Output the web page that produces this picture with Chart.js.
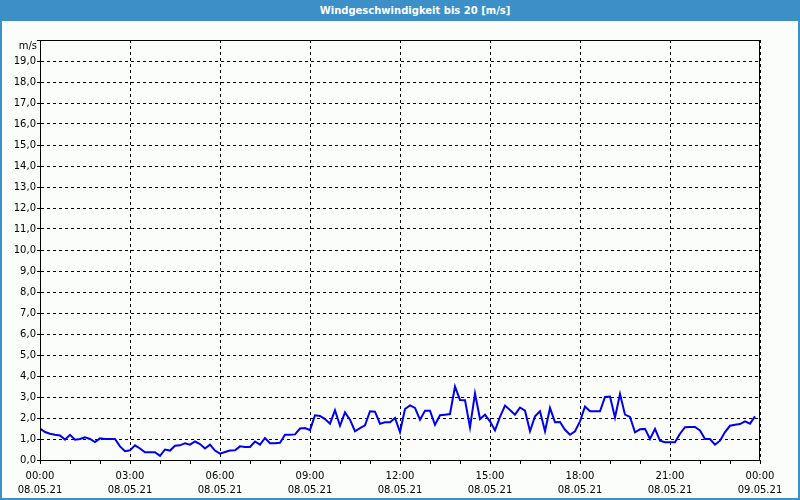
<!DOCTYPE html>
<html><head><meta charset="utf-8">
<script src="https://cdn.jsdelivr.net/npm/chart.js@4"></script>
<style>
html,body{margin:0;padding:0;background:#fbfdfb;}
#wrap{position:relative;width:800px;height:500px;background:#fbfdfb;overflow:hidden;}
#titlebar{position:absolute;left:0;top:0;width:800px;height:21px;background:#3c8fc7;color:#fff;font:bold 10px "DejaVu Sans";line-height:21px;}
#titlebar span{position:absolute;left:415px;top:0;transform:translateX(-50%);white-space:nowrap;}
.b{position:absolute;background:#3c8fc7;}
canvas{position:absolute;left:0;top:0;}
</style></head>
<body><div id="wrap">
<div id="titlebar"><span>Windgeschwindigkeit bis 20 [m/s]</span></div>
<div class="b" style="left:0;top:0;width:2px;height:500px"></div>
<div class="b" style="right:0;top:0;width:2px;height:500px"></div>
<div class="b" style="left:0;bottom:0;width:800px;height:2px"></div>
<canvas id="c" width="800" height="500"></canvas>
</div>
<script>
// wind speed in m/s, one value every 10 minutes from 08.05.21 00:00 to 23:50
const windSpeed = [
  1.5,1.33,1.25,1.2,1.17,0.97,1.2,0.97,1.0,1.08,1.0,0.85,1.03,1.0,1.0,1.0,0.65,0.42,0.46,0.7,0.55,0.37,0.37,0.37,
  0.2,0.5,0.45,0.68,0.7,0.8,0.73,0.88,0.76,0.55,0.73,0.45,0.3,0.38,0.45,0.46,0.65,0.62,0.62,0.88,0.73,1.05,0.8,0.8,
  0.82,1.2,1.2,1.22,1.5,1.52,1.42,2.13,2.1,1.95,1.73,2.37,1.63,2.27,1.92,1.37,1.52,1.65,2.32,2.3,1.73,1.8,1.8,2.0,
  1.33,2.43,2.6,2.48,1.92,2.35,2.35,1.68,2.13,2.16,2.19,3.5,2.86,2.85,1.55,3.17,1.95,2.16,1.84,1.41,2.05,2.59,2.38,2.16,
  2.5,2.35,1.37,2.08,2.32,1.37,2.48,1.8,1.81,1.44,1.2,1.37,1.84,2.55,2.32,2.32,2.32,3.0,3.02,2.03,3.14,2.16,2.05,1.32,
  1.46,1.48,1.0,1.48,0.92,0.85,0.85,0.85,1.25,1.56,1.57,1.57,1.41,1.0,1.0,0.73,0.92,1.33,1.63,1.68,1.71,1.84,1.73,2.08
];
const sampleMinutes = 10;
const xTickTimes = ["00:00","03:00","06:00","09:00","12:00","15:00","18:00","21:00","00:00"];
const xTickDates = ["08.05.21","08.05.21","08.05.21","08.05.21","08.05.21","08.05.21","08.05.21","08.05.21","09.05.21"];
const yUnit = "m/s";

const points = windSpeed.map((v, i) => ({x: i * sampleMinutes, y: v}));
const tickFont = {family: 'DejaVu Sans', size: 10, lineHeight: 1.4};

const framePlugin = {
  id: 'frame',
  afterDraw(chart) {
    const {ctx, chartArea: a} = chart;
    ctx.save();
    ctx.strokeStyle = '#000';
    ctx.lineWidth = 1;
    ctx.setLineDash([]);
    ctx.strokeRect(a.left + 0.5, a.top + 0.5, a.right - a.left - 1, a.bottom - a.top);
    ctx.fillStyle = '#000';
    ctx.font = '10px "DejaVu Sans"';
    ctx.textAlign = 'right';
    ctx.textBaseline = 'middle';
    ctx.fillText(yUnit, a.left - 3, a.top + 6);
    ctx.restore();
  }
};

new Chart(document.getElementById('c'), {
  type: 'line',
  data: {datasets: [{data: points, borderColor: '#0000ee', borderWidth: 2, pointRadius: 0, tension: 0, fill: false}]},
  options: {
    responsive: false,
    animation: false,
    layout: {padding: {top: 40, left: 0, right: 0, bottom: 0}},
    plugins: {legend: {display: false}, tooltip: {enabled: false}, title: {display: false}},
    scales: {
      x: {
        type: 'linear', min: 0, max: 1440,
        afterFit(s) { s.height = 40; },
        ticks: {
          stepSize: 60, autoSkip: false, maxRotation: 0, padding: 5, color: '#000', font: tickFont,
          callback(v) { if (v % 180 !== 0) return ''; const k = v / 180; return [xTickTimes[k], xTickDates[k]]; }
        },
        grid: {
          color: (c) => (c.tick && c.tick.value % 180 === 0) ? '#000' : 'rgba(0,0,0,0)',
          tickColor: '#000', tickLength: 4, lineWidth: 1, tickBorderDash: []
        },
        border: {display: true, color: '#000', dash: [3, 3]}
      },
      y: {
        min: 0, max: 20,
        afterFit(s) { s.width = 40; },
        ticks: {
          stepSize: 1, padding: 1, color: '#000', font: tickFont,
          callback(v) { return v >= 20 ? '' : v.toFixed(1).replace('.', ','); }
        },
        grid: {color: '#000', tickColor: '#000', tickLength: 3, lineWidth: 1, tickBorderDash: []},
        border: {display: true, color: '#000', dash: [3, 3]}
      },
      yR: {
        position: 'right', min: 0, max: 20,
        afterFit(s) { s.width = 40; },
        ticks: {display: false}, grid: {display: false}, border: {display: false}
      }
    }
  },
  plugins: [framePlugin]
});
</script>
</body></html>
